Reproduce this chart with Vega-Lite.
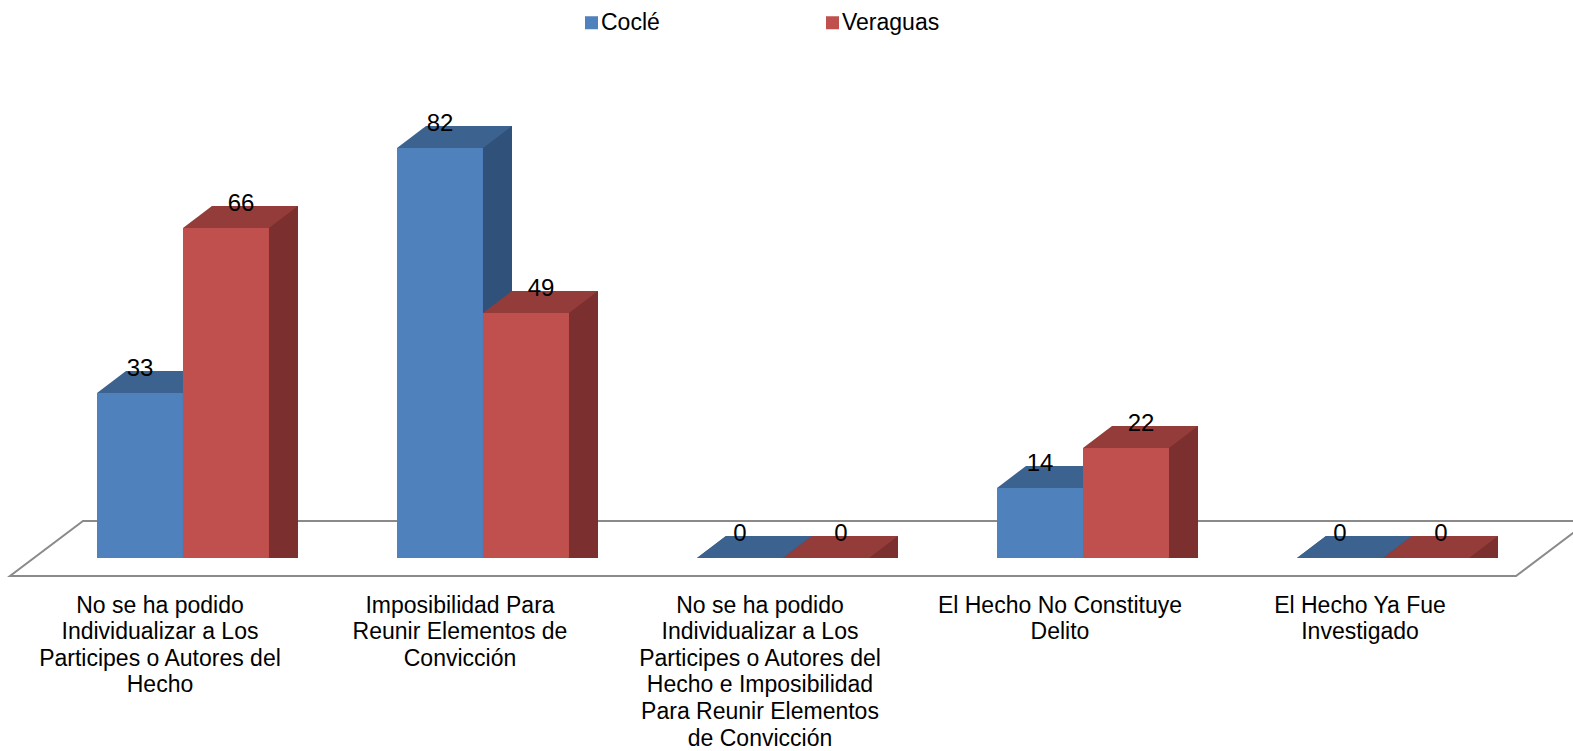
{
  "$schema": "https://vega.github.io/schema/vega-lite/v6.json",
  "width": 1500,
  "height": 500,
  "autosize": {"type": "none"},
  "padding": {"left": 33, "top": 58, "right": 40, "bottom": 193},
  "background": "white",
  "config": {"view": {"stroke": null}, "font": "Liberation Sans"},
  "resolve": {"scale": {"xOffset": "independent"}},
  "data": {
    "values": [
      {"categoria": "No se ha podido\nIndividualizar a Los\nParticipes o Autores del\nHecho", "serie": "Coclé", "valor": 33},
      {"categoria": "No se ha podido\nIndividualizar a Los\nParticipes o Autores del\nHecho", "serie": "Veraguas", "valor": 66},
      {"categoria": "Imposibilidad Para\nReunir Elementos de\nConvicción", "serie": "Coclé", "valor": 82},
      {"categoria": "Imposibilidad Para\nReunir Elementos de\nConvicción", "serie": "Veraguas", "valor": 49},
      {"categoria": "No se ha podido\nIndividualizar a Los\nParticipes o Autores del\nHecho e Imposibilidad\nPara Reunir Elementos\nde Convicción", "serie": "Coclé", "valor": 0},
      {"categoria": "No se ha podido\nIndividualizar a Los\nParticipes o Autores del\nHecho e Imposibilidad\nPara Reunir Elementos\nde Convicción", "serie": "Veraguas", "valor": 0},
      {"categoria": "El Hecho No Constituye\nDelito", "serie": "Coclé", "valor": 14},
      {"categoria": "El Hecho No Constituye\nDelito", "serie": "Veraguas", "valor": 22},
      {"categoria": "El Hecho Ya Fue\nInvestigado", "serie": "Coclé", "valor": 0},
      {"categoria": "El Hecho Ya Fue\nInvestigado", "serie": "Veraguas", "valor": 0}
    ]
  },
  "layer": [
    {
      "data": {"values": [{"piso": "base"}]},
      "mark": {"type": "point", "shape": "M-1.546,0.036L1.466,0.036L1.612,-0.074L-1.4,-0.074Z", "size": 1000000, "filled": false, "stroke": "#8a8a8a", "strokeWidth": 2, "opacity": 1},
      "encoding": {
        "y": {"datum": 0, "type": "quantitative", "scale": {"domain": [0, 100], "nice": false}, "axis": null}
      }
    },
    {
      "mark": {"type": "bar", "yOffset": -22, "y2Offset": -22},
      "encoding": {
        "x": {"field": "categoria", "type": "nominal", "sort": null, "scale": {"paddingInner": 0.4267, "paddingOuter": 0.2133}, "title": null,
          "axis": {"domain": false, "ticks": false, "grid": false, "labelAngle": 0, "labelFontSize": 23, "labelFont": "Liberation Sans", "labelColor": "#000000", "labelPadding": 36, "labelLineHeight": 26.6, "labelOffset": -23, "labelLimit": 400, "labelOverlap": false, "labelBaseline": "top", "labelExpr": "split(datum.value, '\\n')"}},
        "xOffset": {"field": "serie", "type": "nominal", "sort": ["Coclé", "Veraguas"], "scale": {"type": "band", "range": [29, 201], "paddingInner": 0, "paddingOuter": 0}},
        "y": {"field": "valor", "type": "quantitative", "stack": null},
        "color": {"condition": {"test": "datum.serie === 'Coclé'", "value": "#30527a"}, "value": "#7b302f"}
      }
    },
    {
      "mark": {"type": "point", "shape": "M-1,0L1,0L1.674,-0.512L-0.326,-0.512Z", "size": 7396, "filled": true, "opacity": 1, "strokeWidth": 0},
      "encoding": {
        "x": {"field": "categoria", "type": "nominal", "sort": null},
        "xOffset": {"field": "serie", "type": "nominal", "sort": ["Coclé", "Veraguas"], "scale": {"type": "band", "paddingInner": 0, "paddingOuter": 0}},
        "y": {"datum": 0, "type": "quantitative"},
        "color": {"condition": {"test": "datum.serie === 'Coclé'", "value": "#30527a"}, "value": "#7b302f"}
      }
    },
    {
      "mark": {"type": "point", "shape": "M-1,0L1,0L1.674,-0.512L-0.326,-0.512Z", "size": 7396, "filled": true, "opacity": 1, "strokeWidth": 0},
      "encoding": {
        "x": {"field": "categoria", "type": "nominal", "sort": null},
        "xOffset": {"field": "serie", "type": "nominal", "sort": ["Coclé", "Veraguas"], "scale": {"type": "band", "paddingInner": 0, "paddingOuter": 0}},
        "y": {"field": "valor", "type": "quantitative"},
        "color": {"condition": {"test": "datum.serie === 'Coclé'", "value": "#3c6390"}, "value": "#943c3a"}
      }
    },
    {
      "mark": {"type": "bar"},
      "encoding": {
        "x": {"field": "categoria", "type": "nominal", "sort": null},
        "xOffset": {"field": "serie", "type": "nominal", "sort": ["Coclé", "Veraguas"], "scale": {"type": "band", "paddingInner": 0, "paddingOuter": 0}},
        "y": {"field": "valor", "type": "quantitative", "stack": null},
        "color": {"field": "serie", "type": "nominal", "scale": {"domain": ["Coclé", "Veraguas"], "range": ["#4f81bd", "#c0504d"]},
          "legend": {"orient": "none", "legendX": 547, "legendY": -47, "direction": "horizontal", "title": null, "symbolType": "square", "symbolSize": 169, "symbolStrokeWidth": 0, "labelFontSize": 23, "labelFont": "Liberation Sans", "labelColor": "#000000", "columnPadding": 161, "labelOffset": -2, "padding": 0}}
      }
    },
    {
      "transform": [{"filter": "datum.serie === 'Coclé'"}],
      "mark": {"type": "text", "fontSize": 24, "font": "Liberation Sans", "color": "#000000", "dy": -17, "baseline": "alphabetic"},
      "encoding": {
        "x": {"field": "categoria", "type": "nominal", "sort": null},
        "xOffset": {"field": "serie", "type": "nominal", "scale": {"type": "band", "domain": ["Coclé", "Veraguas"], "paddingInner": 0, "paddingOuter": 0}},
        "y": {"field": "valor", "type": "quantitative"},
        "text": {"field": "valor", "type": "quantitative"}
      }
    },
    {
      "transform": [{"filter": "datum.serie === 'Veraguas'"}],
      "mark": {"type": "text", "fontSize": 24, "font": "Liberation Sans", "color": "#000000", "dy": -17, "dx": 15, "baseline": "alphabetic"},
      "encoding": {
        "x": {"field": "categoria", "type": "nominal", "sort": null},
        "xOffset": {"field": "serie", "type": "nominal", "scale": {"type": "band", "domain": ["Coclé", "Veraguas"], "paddingInner": 0, "paddingOuter": 0}},
        "y": {"field": "valor", "type": "quantitative"},
        "text": {"field": "valor", "type": "quantitative"}
      }
    }
  ]
}
